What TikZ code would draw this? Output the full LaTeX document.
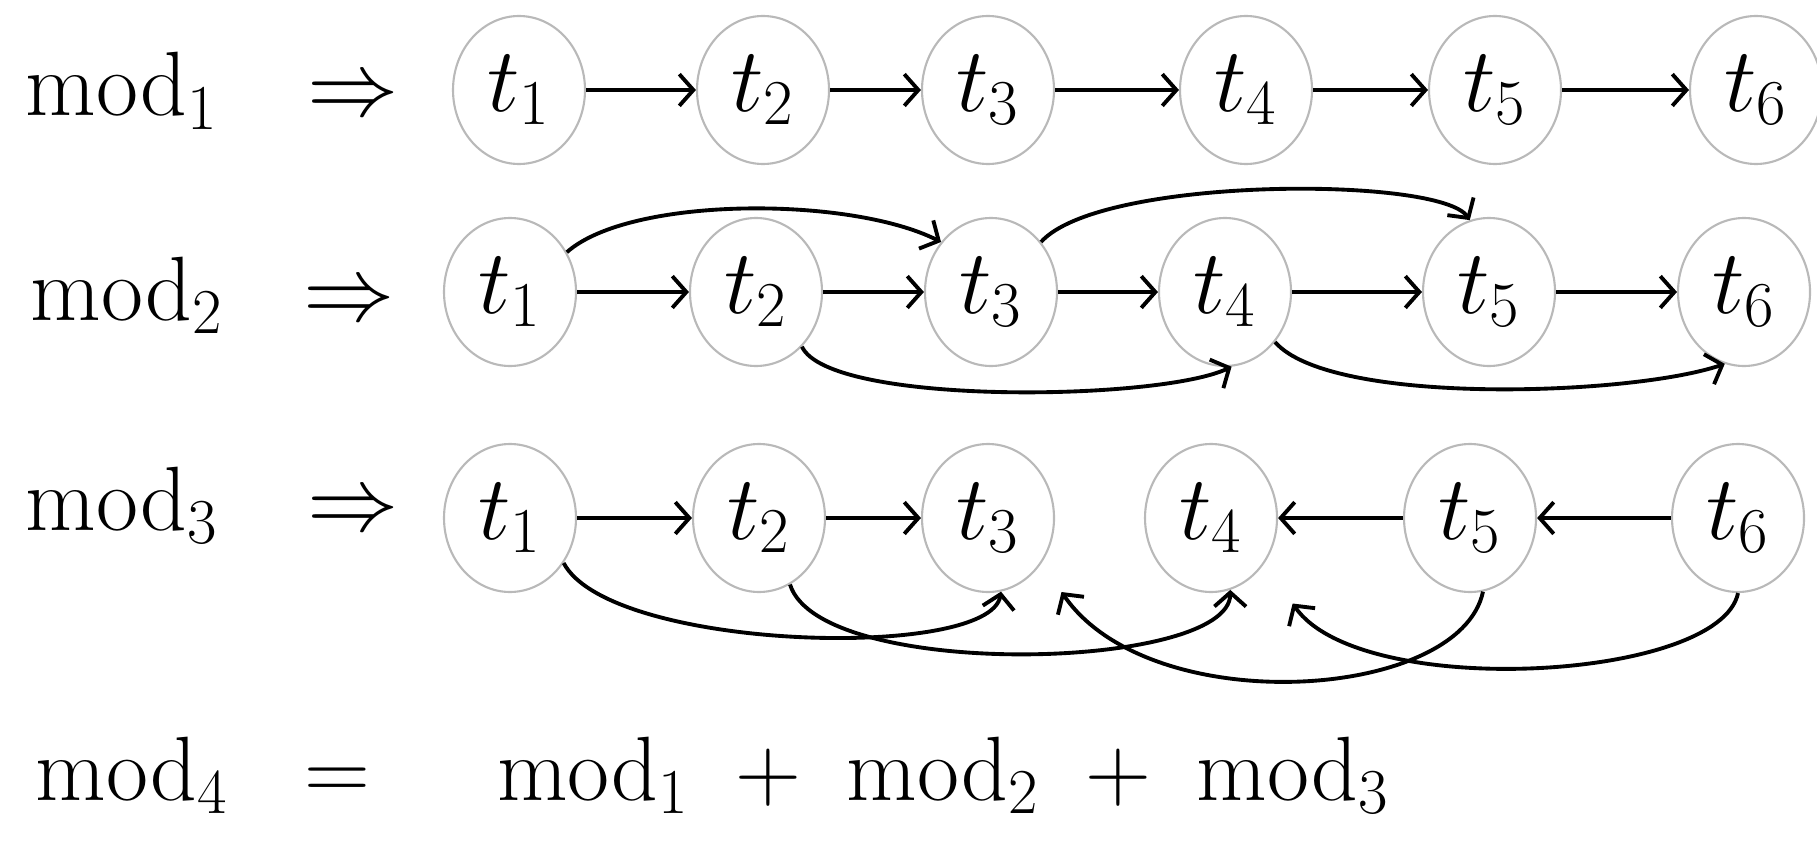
\RequirePackage{fix-cm}
\documentclass[tikz,border=0pt]{standalone}
\usepackage{amsmath}
\usetikzlibrary{arrows.meta,shapes.geometric}

\begin{document}
\begin{tikzpicture}[
  font=\fontsize{26}{30}\selectfont,
  tok/.style={draw=gray!55, line width=0.6pt, ellipse, inner sep=0pt, minimum width=1.32cm, minimum height=1.48cm},
  lbl/.style={anchor=base west, inner sep=0pt},
  arrow/.style={-{Straight Barb[length=4pt,width=9pt]}, line width=1.1pt}
]
\useasboundingbox (0,0) rectangle (18.17,8.51);

% row 1: plain chain
\node[lbl] (m1) at (0.25,7.35) {$\mathrm{mod}_1\hspace{0.7em}\Rightarrow$};
\node[tok] (a1) at (5.19,7.61) {$t_1$};
\node[tok] (a2) at (7.63,7.61) {$t_2$};
\node[tok] (a3) at (9.88,7.61) {$t_3$};
\node[tok] (a4) at (12.46,7.61) {$t_4$};
\node[tok] (a5) at (14.95,7.61) {$t_5$};
\node[tok] (a6) at (17.56,7.61) {$t_6$};

\draw[arrow] (a1) -- (a2);
\draw[arrow] (a2) -- (a3);
\draw[arrow] (a3) -- (a4);
\draw[arrow] (a4) -- (a5);
\draw[arrow] (a5) -- (a6);

% row 2: chain plus skips
\node[lbl] (m2) at (0.3,5.31) {$\mathrm{mod}_2\hspace{0.6em}\Rightarrow$};
\node[tok] (b1) at (5.10,5.59) {$t_1$};
\node[tok] (b2) at (7.56,5.59) {$t_2$};
\node[tok] (b3) at (9.91,5.59) {$t_3$};
\node[tok] (b4) at (12.25,5.59) {$t_4$};
\node[tok] (b5) at (14.89,5.59) {$t_5$};
\node[tok] (b6) at (17.44,5.59) {$t_6$};

\draw[arrow] (b1) -- (b2);
\draw[arrow] (b2) -- (b3);
\draw[arrow] (b3) -- (b4);
\draw[arrow] (b4) -- (b5);
\draw[arrow] (b5) -- (b6);
\draw[arrow] (b1.35) .. controls (6.3,6.55) and (8.5,6.55) .. (b3.135);
\draw[arrow] (b3.45) .. controls (11.0,6.75) and (14.4,6.75) .. (b5.105);
\draw[arrow] (b2.-50) .. controls (8.3,4.45) and (11.6,4.5) .. (b4.-85);
\draw[arrow] (b4.-45) .. controls (13.3,4.45) and (16.3,4.55) .. (b6.-105);

% row 3: two directions
\node[lbl] (m3) at (0.25,3.21) {$\mathrm{mod}_3\hspace{0.7em}\Rightarrow$};
\node[tok] (c1) at (5.10,3.33) {$t_1$};
\node[tok] (c2) at (7.59,3.33) {$t_2$};
\node[tok] (c3) at (9.88,3.33) {$t_3$};
\node[tok] (c4) at (12.11,3.33) {$t_4$};
\node[tok] (c5) at (14.70,3.33) {$t_5$};
\node[tok] (c6) at (17.38,3.33) {$t_6$};

\draw[arrow] (c1) -- (c2);
\draw[arrow] (c2) -- (c3);
\draw[arrow] (c5) -- (c4);
\draw[arrow] (c6) -- (c5);
\draw[arrow] (c1.-40) .. controls (6.1,2.0) and (9.9,1.9) .. (c3.-80);
\draw[arrow] (c2.-65) .. controls (8.2,1.7) and (12.3,1.8) .. (c4.-75);
\draw[arrow, shorten >=10pt] (c5.-80) .. controls (14.6,1.5) and (11.5,1.3) .. (c3.-40);
\draw[arrow, shorten >=14pt] (c6.-90) .. controls (17.2,1.7) and (13.6,1.5) .. (c4.-40);

% row 4
\node[lbl] (m4) at (0.35,0.51) {$\mathrm{mod}_4 \;\;=\;\;\;\; \mathrm{mod}_1 \;+\; \mathrm{mod}_2 \;+\; \mathrm{mod}_3$};
\end{tikzpicture}
\end{document}
